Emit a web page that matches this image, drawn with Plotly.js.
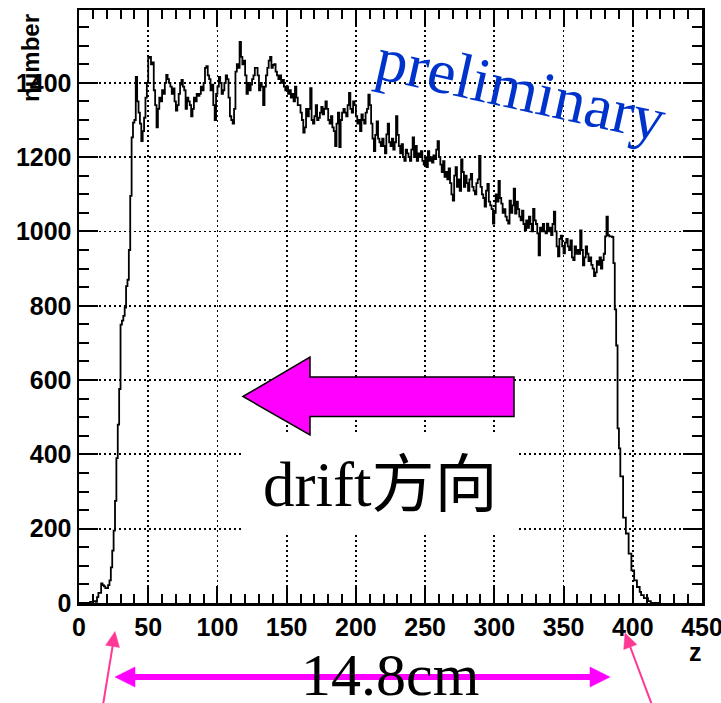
<!DOCTYPE html>
<html>
<head>
<meta charset="utf-8">
<script src="https://cdn.plot.ly/plotly-3.0.1.min.js"></script>
<style>html,body{margin:0;padding:0;background:#fff;}#chart{width:721px;height:703px;}</style>
</head>
<body>
<div id="chart"></div>
<script>
// ---- data (histogram of z, bin width 1, starting at 0) ----
const binStart = 0;
const binWidth = 1;
const counts = [
  0,0,0,0,0,0,0,0,3,3,
  5,5,3,16,27,27,53,48,45,40,
  40,48,61,96,141,195,275,390,480,576,
  749,760,773,795,853,870,950,1096,1253,1293,
  1300,1416,1350,1320,1290,1243,1270,1306,1360,1400,
  1467,1470,1450,1455,1380,1340,1280,1330,1360,1350,
  1380,1370,1400,1421,1410,1400,1390,1370,1385,1350,
  1325,1340,1370,1395,1408,1390,1380,1330,1360,1350,
  1340,1310,1330,1360,1350,1370,1365,1370,1390,1380,
  1400,1440,1445,1420,1410,1380,1395,1340,1300,1370,
  1390,1416,1400,1370,1380,1400,1420,1410,1360,1310,
  1300,1290,1330,1430,1450,1440,1510,1470,1450,1460,
  1420,1370,1400,1380,1395,1410,1420,1440,1440,1420,
  1380,1400,1390,1340,1390,1420,1440,1460,1470,1440,
  1448,1450,1430,1420,1410,1420,1400,1408,1390,1380,
  1390,1370,1380,1360,1370,1350,1390,1360,1340,1340,
  1320,1300,1266,1280,1330,1310,1330,1386,1300,1290,
  1310,1340,1300,1306,1320,1335,1315,1330,1350,1330,
  1300,1290,1310,1280,1270,1230,1290,1320,1227,1300,
  1320,1330,1320,1310,1340,1373,1330,1320,1350,1340,
  1310,1290,1300,1270,1315,1300,1290,1320,1330,1368,
  1340,1290,1250,1216,1260,1296,1250,1240,1230,1250,
  1230,1210,1261,1290,1240,1230,1250,1220,1240,1310,
  1260,1230,1210,1235,1200,1190,1220,1210,1200,1190,
  1220,1253,1200,1230,1190,1210,1200,1216,1190,1180,
  1200,1173,1216,1190,1200,1185,1205,1195,1220,1243,
  1200,1180,1160,1189,1147,1160,1140,1170,1130,1100,
  1083,1150,1173,1120,1140,1109,1194,1160,1120,1150,
  1130,1109,1140,1155,1120,1110,1100,1130,1140,1203,
  1120,1100,1090,1067,1110,1128,1080,1070,1060,1021,
  1050,1100,1080,1136,1090,1075,1050,1060,1040,1030,
  1021,1083,1050,1070,1115,1048,1080,1060,1040,1030,
  1056,1020,1003,1030,1010,1040,1020,1000,1061,1030,
  1020,995,936,1010,1000,1020,1000,995,1021,1000,
  1010,990,1020,1053,1000,960,933,980,989,960,
  941,970,980,960,950,976,930,923,960,940,
  950,940,1003,950,909,930,960,940,920,930,
  910,900,880,890,920,910,930,900,923,940,
  987,1040,990,987,987,985,915,790,693,470,
  416,341,341,230,230,187,187,133,133,88,
  88,61,61,43,43,30,21,21,13,13,
  13,5,5,0,0,0,0,0,0,0
];
const xTickVals = [0,50,100,150,200,250,300,350,400,450];
const yTickVals = [0,200,400,600,800,1000,1200,1400];
const xTitle = 'z';
const yTitle = 'number';
const watermark = 'preliminary';
const driftLabel = 'drift方向';
const lengthLabel = '14.8cm';

// ---- build step trace ----
const xs = counts.map((_, i) => binStart + i * binWidth);
const ys = counts.slice();
xs.push(binStart + counts.length * binWidth);
ys.push(counts[counts.length - 1]);

// plot area in pixels
const L = 79, T = 10, W = 623, H = 593;
const px = p => (p - L) / W;
const py = p => (T + H - p) / H;
const poly = pts => 'M' + pts.map(p => px(p[0]) + ',' + py(p[1])).join(' L') + ' Z';

function arrowShapes(x0, y0, x1, y1, headLen, headHalf, color, width) {
  const dx = x1 - x0, dy = y1 - y0, len = Math.hypot(dx, dy);
  const ux = dx / len, uy = dy / len;
  const bx = x1 - ux * headLen, by = y1 - uy * headLen;
  const nx = -uy, ny = ux;
  return [
    {type:'line', xref:'paper', yref:'paper', x0:px(x0), y0:py(y0), x1:px(bx + ux), y1:py(by + uy),
     line:{color:color, width:width}, layer:'above'},
    {type:'path', xref:'paper', yref:'paper', layer:'above',
     path: poly([[x1,y1],[bx + nx*headHalf, by + ny*headHalf],[bx - nx*headHalf, by - ny*headHalf]]),
     fillcolor:color, line:{color:color, width:0.5}}
  ];
}

const shapes = [
  {type:'rect', xref:'paper', yref:'paper', layer:'above',
   x0:px(242), x1:px(519), y0:py(435), y1:py(533), fillcolor:'#ffffff', line:{width:0}},
  {type:'path', xref:'paper', yref:'paper', layer:'above',
   path: poly([[243,396.5],[310,357],[310,377],[514,377],[514,416.5],[310,416.5],[310,435]]),
   fillcolor:'#ff00ff', line:{color:'#000000', width:1.5}},
  ...arrowShapes(600, 677, 115, 677, 20, 10, '#ff00ff', 6),
  ...arrowShapes(125, 677, 610, 677, 20, 10, '#ff00ff', 6),
  ...arrowShapes(103, 705, 115, 631.5, 15, 7, '#ff3896', 2),
  ...arrowShapes(652, 705, 625, 633, 15, 7, '#ff3896', 2)
];

const annotations = [
  {xref:'paper', yref:'paper', x:px(521), y:py(89), xanchor:'center', yanchor:'middle',
   text:watermark, textangle:12.5, showarrow:false,
   font:{family:'Liberation Serif, Times New Roman, serif', size:63, color:'#0033cc'}},
  {xref:'paper', yref:'paper', x:px(380), y:py(485), xanchor:'center', yanchor:'middle',
   text:driftLabel, showarrow:false,
   font:{family:'Liberation Serif, Noto Sans CJK SC, serif', size:63, color:'#000000'}},
  {xref:'paper', yref:'paper', x:px(390), y:py(675), xanchor:'center', yanchor:'middle',
   text:lengthLabel, showarrow:false,
   font:{family:'Liberation Serif, Times New Roman, serif', size:60, color:'#000000'}},
  {xref:'paper', yref:'paper', x:px(695.5), y:py(652), xanchor:'center', yanchor:'middle',
   text:xTitle, showarrow:false,
   font:{family:'Liberation Sans, Arial, sans-serif', size:25, color:'#000000', weight:'bold'}},
  {xref:'paper', yref:'paper', x:px(30), y:py(12), xanchor:'center', yanchor:'top',
   text:yTitle, textangle:-90, showarrow:false,
   font:{family:'Liberation Sans, Arial, sans-serif', size:24, color:'#000000', weight:'bold'}}
];

const axisCommon = {
  showline:true, mirror:'ticks', linecolor:'#000000', linewidth:2.5,
  ticks:'inside', tickcolor:'#000000', tickwidth:2,
  showgrid:true, gridcolor:'#000000', gridwidth:1.8, griddash:'2px,3px',
  zeroline:false, tickmode:'array', ticklabeloverflow:'allow',
  tickfont:{family:'Liberation Sans, Arial, sans-serif', size:25, color:'#000000', weight:'bold'}
};

const layout = {
  width:721, height:703,
  margin:{l:L, r:721 - L - W, t:T, b:703 - T - H, autoexpand:false},
  paper_bgcolor:'#ffffff', plot_bgcolor:'#ffffff',
  showlegend:false,
  xaxis: Object.assign({}, axisCommon, {
    range:[0, 450], tickvals:xTickVals, ticktext:xTickVals.map(String), ticklen:17,
    minor:{ticks:'inside', dtick:10, tick0:0, ticklen:9, tickwidth:2, tickcolor:'#000000', showgrid:false}
  }),
  yaxis: Object.assign({}, axisCommon, {
    range:[0, 1596], tickvals:yTickVals, ticktext:yTickVals.map(String), ticklen:19,
    minor:{ticks:'inside', dtick:50, tick0:0, ticklen:10, tickwidth:2, tickcolor:'#000000', showgrid:false}
  }),
  shapes: shapes,
  annotations: annotations
};

const trace = {
  type:'scatter', mode:'lines', x:xs, y:ys,
  line:{shape:'hv', color:'#000000', width:1.8},
  hoverinfo:'skip'
};

Plotly.newPlot('chart', [trace], layout, {staticPlot:true, displayModeBar:false});
</script>
</body>
</html>
